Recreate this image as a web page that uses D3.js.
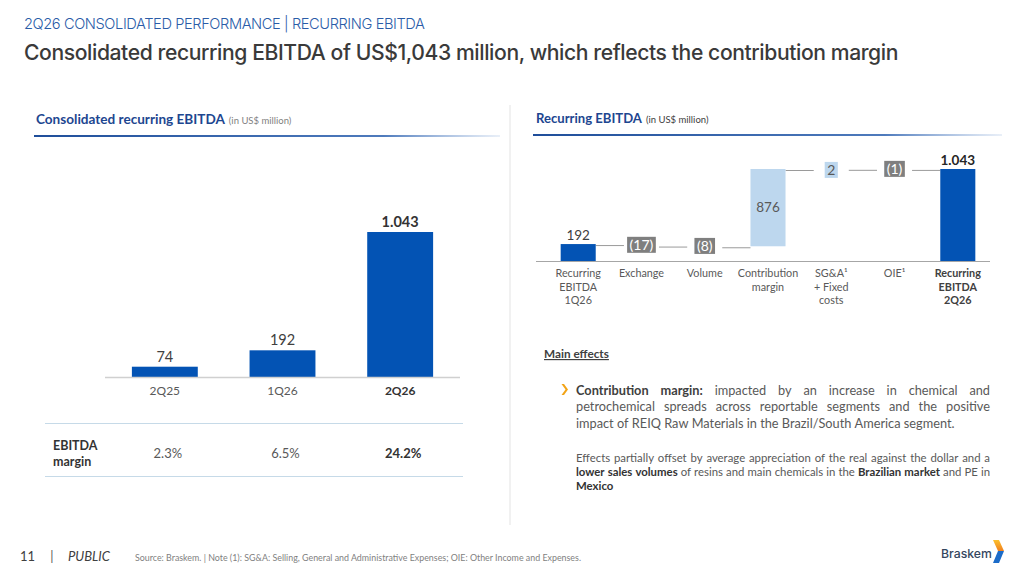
<!DOCTYPE html>
<html><head><meta charset="utf-8">
<script src="https://cdn.jsdelivr.net/npm/d3@7"></script>
<style>html,body{margin:0;padding:0;background:#fff;}svg{display:block;}</style>
</head><body>
<svg id="c" width="1019" height="573"></svg>
<script>
// ---------- DATA ----------
const superTitle = "2Q26 CONSOLIDATED PERFORMANCE | RECURRING EBITDA";
const mainTitle = "Consolidated recurring EBITDA of US$1,043 million, which reflects the contribution margin";
const leftCats = ["2Q25", "1Q26", "2Q26"];
const leftValues = [74, 192, 1043];
const leftLabels = ["74", "192", "1.043"];
const marginLabels = ["2.3%", "6.5%", "24.2%"];
const wfCats = [["Recurring","EBITDA","1Q26"],["Exchange"],["Volume"],["Contribution","margin"],["SG&A\u00B9","+ Fixed","costs"],["OIE\u00B9"],["Recurring","EBITDA","2Q26"]];
const wfValues = [192, -17, -8, 876, 2, -1, 1043];
const wfTypes = ["total","delta","delta","delta","delta","delta","total"];
const wfLabels = ["192","(17)","(8)","876","2","(1)","1.043"];
const para1 = [
  [["Contribution margin:", true], [" impacted by an increase in chemical and", false]],
  [["petrochemical spreads across reportable segments and the positive", false]],
  [["impact of REIQ Raw Materials in the Brazil/South America segment.", false]]
];
const para2 = [
  [["Effects partially offset by average appreciation of the real against the dollar and a", false]],
  [["lower sales volumes", true], [" of resins and main chemicals in the ", false], ["Brazilian market", true], [" and PE in", false]],
  [["Mexico", true]]
];
const sourceNote = "Source: Braskem. | Note (1): SG&A: Selling, General and Administrative Expenses; OIE: Other Income and Expenses.";

// ---------- SETUP ----------
const svg = d3.select("#c");
const BODY = "Lato, 'Open Sans', sans-serif";
const HEAD = "Inter, 'Noto Sans', sans-serif";
const DARK_BLUE = "#0353B4";
const LIGHT_BLUE = "#BDD7EE";
const GRAY_TXT = "#595959";

function fit(sel, target) {
  const w = sel.node().getComputedTextLength();
  const fs = parseFloat(sel.attr("font-size"));
  sel.attr("font-size", fs * target / w);
  return sel;
}
function measure(txt, fs, bold, family) {
  const t = svg.append("text").attr("font-family", family).attr("font-size", fs)
    .attr("font-weight", bold ? 700 : 400).text(txt);
  const w = t.node().getComputedTextLength();
  t.remove();
  return w;
}

// ---------- HEADER ----------
fit(svg.append("text").attr("x", 24).attr("y", 29).attr("font-family", HEAD)
  .attr("font-size", 15).attr("fill", "#2A5CA8").attr("font-weight", 300)
  .style("letter-spacing", "-0.4px").text(superTitle), 401);
fit(svg.append("text").attr("x", 24).attr("y", 60).attr("font-family", HEAD)
  .attr("font-size", 22).attr("fill", "#3A3A3A").attr("font-weight", 500)
  .style("letter-spacing", "-0.4px").text(mainTitle), 876);

// gradients for underlines
const defs = svg.append("defs");
const g1 = defs.append("linearGradient").attr("id", "ul").attr("x1", "0").attr("x2", "1");
g1.append("stop").attr("offset", "0").attr("stop-color", "#1F4E9A");
g1.append("stop").attr("offset", "0.75").attr("stop-color", "#2F63B0").attr("stop-opacity", 0.85);
g1.append("stop").attr("offset", "1").attr("stop-color", "#6C95CF").attr("stop-opacity", 0.15);

function panelTitle(x, y, main, sub, w, lineX1, lineX2, lineY) {
  const t = svg.append("text").attr("x", x).attr("y", y).attr("font-family", BODY)
    .attr("font-size", 13).attr("font-weight", 700).attr("fill", "#1D4690").text(main);
  fit(t, w);
  const mw = t.node().getComputedTextLength();
  svg.append("text").attr("x", x + mw + 4).attr("y", y).attr("font-family", BODY)
    .attr("font-size", 9.5).attr("fill", sub.color).text(sub.text);
  svg.append("rect").attr("x", lineX1).attr("y", lineY).attr("width", lineX2 - lineX1)
    .attr("height", 2).attr("fill", "url(#ul)");
}
panelTitle(36, 124, "Consolidated recurring EBITDA", {text: "(in US$ million)", color: "#7F7F7F"}, 189, 34, 500, 135);
panelTitle(536, 123, "Recurring EBITDA", {text: "(in US$ million)", color: "#404040"}, 106, 533, 1002, 134);

// divider
svg.append("line").attr("x1", 510).attr("x2", 510).attr("y1", 105).attr("y2", 525)
  .attr("stroke", "#E3E3E3").attr("stroke-width", 1);

// ---------- LEFT BAR CHART ----------
const xL = d3.scaleBand().domain(leftCats).range([106, 459]).paddingInner(0.44).paddingOuter(0.22);
const yL = d3.scaleLinear().domain([0, d3.max(leftValues)]).range([377, 232]);
const gl = svg.append("g");
gl.selectAll("rect.bar").data(leftValues).join("rect").attr("class", "bar")
  .attr("x", (d, i) => xL(leftCats[i])).attr("width", xL.bandwidth())
  .attr("y", d => yL(d)).attr("height", d => yL(0) - yL(d)).attr("fill", DARK_BLUE);
gl.append("line").attr("x1", 105).attr("x2", 460).attr("y1", yL(0) + 0.5).attr("y2", yL(0) + 0.5)
  .attr("stroke", "#D0D0D0").attr("stroke-width", 1.5);
gl.selectAll("text.val").data(leftValues).join("text").attr("class", "val")
  .attr("x", (d, i) => xL(leftCats[i]) + xL.bandwidth() / 2).attr("y", d => yL(d) - 5)
  .attr("text-anchor", "middle").attr("font-family", BODY).attr("font-size", 14.5)
  .attr("font-weight", (d, i) => i === 2 ? 700 : 400)
  .attr("fill", (d, i) => i === 2 ? "#333" : "#404040")
  .text((d, i) => leftLabels[i]);
// x axis labels via d3 axis
const axL = gl.append("g").attr("transform", `translate(0,${yL(0)})`)
  .call(d3.axisBottom(xL).tickSize(0).tickPadding(9));
axL.select(".domain").remove();
axL.selectAll("text").attr("font-family", BODY).attr("font-size", 12)
  .attr("fill", d => d === "2Q26" ? "#333" : GRAY_TXT)
  .attr("font-weight", d => d === "2Q26" ? 700 : 400);

// margin table
gl.append("line").attr("x1", 45).attr("x2", 463).attr("y1", 423.5).attr("y2", 423.5).attr("stroke", "#C6DAE8");
gl.append("line").attr("x1", 45).attr("x2", 463).attr("y1", 476.5).attr("y2", 476.5).attr("stroke", "#C6DAE8");
gl.append("text").attr("x", 53).attr("y", 450).attr("font-family", BODY).attr("font-size", 12.5)
  .attr("font-weight", 700).attr("fill", "#333").text("EBITDA");
gl.append("text").attr("x", 53).attr("y", 466).attr("font-family", BODY).attr("font-size", 12.5)
  .attr("font-weight", 700).attr("fill", "#333").text("margin");
gl.selectAll("text.mg").data(marginLabels).join("text").attr("class", "mg")
  .attr("x", (d, i) => xL(leftCats[i]) + xL.bandwidth() / 2 + 3).attr("y", 458)
  .attr("text-anchor", "middle").attr("font-family", BODY).attr("font-size", 13)
  .attr("font-weight", (d, i) => i === 2 ? 700 : 400)
  .attr("fill", (d, i) => i === 2 ? "#333" : GRAY_TXT).text(d => d);

// ---------- WATERFALL ----------
const wfIdx = wfCats.map((d, i) => i);
const xW = d3.scaleBand().domain(wfIdx).range([536, 1000]).paddingInner(0.446).paddingOuter(0.39);
const yW = d3.scaleLinear().domain([0, wfValues[wfValues.length - 1]]).range([261, 169]);
let cum = 0;
const wf = wfValues.map((v, i) => {
  let y0, y1;
  if (wfTypes[i] === "total") { y0 = 0; y1 = v; cum = v; }
  else { y0 = cum; y1 = cum + v; cum = y1; }
  return {i, v, y0, y1, end: cum};
});
const gw = svg.append("g");
// connectors
wf.slice(0, -1).forEach((d, k) => {
  const n = wf[k + 1];
  gw.append("line").attr("x1", xW(d.i) + xW.bandwidth()).attr("x2", xW(n.i))
    .attr("y1", yW(d.end) + 1.5).attr("y2", yW(d.end) + 1.5)
    .attr("stroke", "#9A9A9A").attr("stroke-width", 1);
});
// baseline
gw.append("line").attr("x1", 536).attr("x2", 990).attr("y1", yW(0) + 0.5).attr("y2", yW(0) + 0.5)
  .attr("stroke", "#A6A6A6").attr("stroke-width", 1);
wf.forEach(d => {
  const top = yW(Math.max(d.y0, d.y1)), bot = yW(Math.min(d.y0, d.y1));
  const cx = xW(d.i) + xW.bandwidth() / 2;
  const big = (bot - top) > 16;
  if (wfTypes[d.i] === "total") {
    gw.append("rect").attr("x", xW(d.i)).attr("width", xW.bandwidth()).attr("y", top)
      .attr("height", bot - top).attr("fill", DARK_BLUE);
    gw.append("text").attr("x", cx).attr("y", top - 4.5).attr("text-anchor", "middle")
      .attr("font-family", BODY).attr("font-size", 13.5)
      .attr("font-weight", d.i === wf.length - 1 ? 700 : 400)
      .attr("fill", d.i === wf.length - 1 ? "#262626" : "#404040").text(wfLabels[d.i]);
  } else if (big) {
    gw.append("rect").attr("x", xW(d.i)).attr("width", xW.bandwidth()).attr("y", top)
      .attr("height", bot - top).attr("fill", d.v > 0 ? LIGHT_BLUE : "#7F7F7F");
    gw.append("text").attr("x", cx).attr("y", (top + bot) / 2 + 4.5).attr("text-anchor", "middle")
      .attr("font-family", BODY).attr("font-size", 13.5).attr("fill", GRAY_TXT).text(wfLabels[d.i]);
  } else {
    const fs = 14;
    const tw = measure(wfLabels[d.i], fs, false, BODY);
    const bw = tw + 5, bh = 16;
    const cy = (top + bot) / 2 + (d.v < 0 ? 0 : 1);
    gw.append("rect").attr("x", cx - bw / 2).attr("width", bw).attr("y", cy - bh / 2)
      .attr("height", bh).attr("fill", d.v > 0 ? LIGHT_BLUE : "#7F7F7F");
    gw.append("text").attr("x", cx).attr("y", cy + 5).attr("text-anchor", "middle")
      .attr("font-family", BODY).attr("font-size", fs)
      .attr("fill", d.v > 0 ? GRAY_TXT : "#FFFFFF").text(wfLabels[d.i]);
  }
  // category labels
  const last = d.i === wf.length - 1;
  wfCats[d.i].forEach((ln, j) => {
    gw.append("text").attr("x", cx).attr("y", 277 + j * 13.5).attr("text-anchor", "middle")
      .attr("font-family", BODY).attr("font-size", 10.8)
      .attr("font-weight", last ? 700 : 400).attr("fill", last ? "#404040" : GRAY_TXT).text(ln);
  });
});

// ---------- MAIN EFFECTS ----------
const me = svg.append("text").attr("x", 544).attr("y", 358).attr("font-family", BODY)
  .attr("font-size", 11).attr("font-weight", 700).attr("fill", "#404040")
  .attr("text-decoration", "underline").text("Main effects");
fit(me, 65);

// bullet chevron
svg.append("path").attr("d", "M561.5,384 L565.5,389.5 L561.5,395 L564,395 L568,389.5 L564,384 Z")
  .attr("fill", "#F2A417");

function paragraph(lines, x, W, y0, lh, fs, colorN, colorB) {
  lines.forEach((runs, li) => {
    const words = [];
    runs.forEach(([txt, bold]) => {
      txt.split(" ").forEach(w => { if (w.length) words.push({w, bold}); });
    });
    words.forEach(o => o.width = measure(o.w, fs, o.bold, BODY));
    const sum = d3.sum(words, o => o.width);
    const justify = li < lines.length - 1;
    const gap = justify ? (W - sum) / (words.length - 1) : measure("a a", fs, false, BODY) - measure("aa", fs, false, BODY);
    let cx = x;
    words.forEach(o => {
      svg.append("text").attr("x", cx).attr("y", y0 + li * lh).attr("font-family", BODY)
        .attr("font-size", fs).attr("font-weight", o.bold ? 700 : 400)
        .attr("fill", o.bold ? colorB : colorN).text(o.w);
      cx += o.width + gap;
    });
  });
}
// fit font sizes so that the natural width of reference lines matches
const p1fs = 13 * 378 / measure(para1[2][0][0], 13, false, BODY);
paragraph(para1, 576, 414, 394.5, 16.5, p1fs, GRAY_TXT, "#404040");
const p2base = measure(para2[0][0][0], 11, false, BODY);
const p2fs = 11 * 402 / p2base;
paragraph(para2, 576, 414, 462, 13.8, p2fs, GRAY_TXT, "#333333");

// ---------- FOOTER ----------
svg.append("text").attr("x", 20).attr("y", 561).attr("font-family", BODY).attr("font-size", 13)
  .attr("fill", "#404040").text("11");
svg.append("text").attr("x", 52).attr("y", 561).attr("font-family", BODY).attr("font-size", 13)
  .attr("fill", "#595959").attr("text-anchor", "middle").text("|");
fit(svg.append("text").attr("x", 68).attr("y", 561).attr("font-family", BODY).attr("font-size", 13)
  .attr("font-style", "italic").attr("fill", "#404040").text("PUBLIC"), 42);
fit(svg.append("text").attr("x", 135).attr("y", 561).attr("font-family", BODY).attr("font-size", 8)
  .attr("fill", "#7F7F7F").text(sourceNote), 447);

// logo
fit(svg.append("text").attr("x", 941).attr("y", 558).attr("font-family", HEAD).attr("font-size", 13)
  .attr("font-weight", 500).attr("fill", "#34465E").text("Braskem"), 51);
const lg = defs.append("linearGradient").attr("id", "lg").attr("x1", "0").attr("x2", "0").attr("y1", "0").attr("y2", "1");
lg.append("stop").attr("offset", "0").attr("stop-color", "#FBC02D");
lg.append("stop").attr("offset", "1").attr("stop-color", "#F07F1E");
svg.append("path").attr("d", "M993,540 L999,540 L1004,551 L998,551 Z").attr("fill", "url(#lg)");
svg.append("path").attr("d", "M998,551 L1004,551 L999,563 L993,563 Z").attr("fill", "#1C6CC9");
</script>
</body></html>
